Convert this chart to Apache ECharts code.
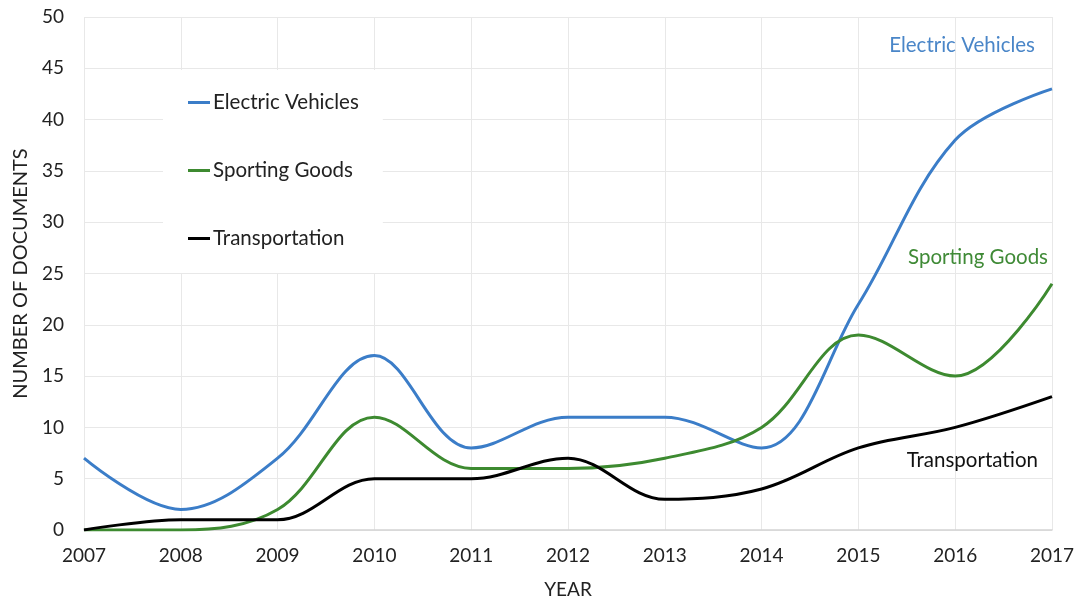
<!DOCTYPE html>
<html>
<head>
<meta charset="utf-8">
<script src="https://cdn.jsdelivr.net/npm/echarts@6/dist/echarts.min.js"></script>
<style>
  html, body { margin: 0; padding: 0; background: #fff; }
  #chart { width: 1075px; height: 600px; }
</style>
</head>
<body>
<div id="chart"></div>
<script>
// data
var years = ['2007', '2008', '2009', '2010', '2011', '2012', '2013', '2014', '2015', '2016', '2017'];
var electricVehicles = [7, 2, 7, 17, 8, 11, 11, 8, 22, 38, 43];
var sportingGoods = [0, 0, 2, 11, 6, 6, 7, 10, 19, 15, 24];
var transportation = [0, 1, 1, 5, 5, 7, 3, 4, 8, 10, 13];

var font = 'Lato, "Open Sans", sans-serif';
var myChart = echarts.init(document.getElementById('chart'));

function line(name, data, color) {
    return {
        name: name,
        type: 'line',
        data: data,
        smooth: 0.36,
        showSymbol: false,
        symbol: 'none',
        lineStyle: { color: color, width: 3 },
        itemStyle: { color: color }
    };
}

var option = {
    backgroundColor: '#fff',
    animation: false,
    grid: { left: 84, right: 23, top: 17, bottom: 70, outerBoundsMode: 'none' },
    legend: {
        orient: 'vertical',
        left: 163,
        top: 70,
        backgroundColor: '#fff',
        padding: [22, 24, 24, 25],
        itemGap: 47,
        itemWidth: 22,
        itemHeight: 3,
        icon: 'rect',
        textStyle: { fontFamily: font, fontSize: 20.5, color: '#222', padding: [0, 0, 0, -2] },
        data: ['Electric Vehicles', 'Sporting Goods', 'Transportation']
    },
    xAxis: {
        type: 'category',
        data: years,
        boundaryGap: false,
        name: 'YEAR',
        nameLocation: 'middle',
        nameGap: 50,
        nameTextStyle: { fontFamily: font, fontSize: 19, color: '#222' },
        axisLine: { lineStyle: { color: '#d4d4d4', width: 1.5 } },
        axisTick: { show: false },
        axisLabel: { fontFamily: font, fontSize: 19, color: '#222', margin: 16 },
        splitLine: { show: true, lineStyle: { color: '#e8e8e8' } }
    },
    yAxis: {
        type: 'value',
        min: 0,
        max: 50,
        interval: 5,
        name: 'NUMBER OF DOCUMENTS',
        nameLocation: 'middle',
        nameGap: 53,
        nameTextStyle: { fontFamily: font, fontSize: 20, color: '#222' },
        axisLine: { show: false },
        axisTick: { show: false },
        axisLabel: { fontFamily: font, fontSize: 19, color: '#222', margin: 20 },
        splitLine: { show: true, lineStyle: { color: '#e8e8e8' } }
    },
    graphic: [
        { type: 'text', right: 40, top: 35, z: 10,
          style: { text: 'Electric Vehicles', font: '20.5px ' + font, fill: '#4a86c8' } },
        { type: 'text', right: 27, top: 247, z: 10,
          style: { text: 'Sporting Goods', font: '20.5px ' + font, fill: '#3f8a36' } },
        { type: 'text', right: 37, top: 450, z: 10,
          style: { text: 'Transportation', font: '20.5px ' + font, fill: '#111' } }
    ],
    series: [
        line('Electric Vehicles', electricVehicles, '#3b7dc8'),
        line('Sporting Goods', sportingGoods, '#3d8a30'),
        line('Transportation', transportation, '#000000')
    ]
};
myChart.setOption(option);
</script>
</body>
</html>
